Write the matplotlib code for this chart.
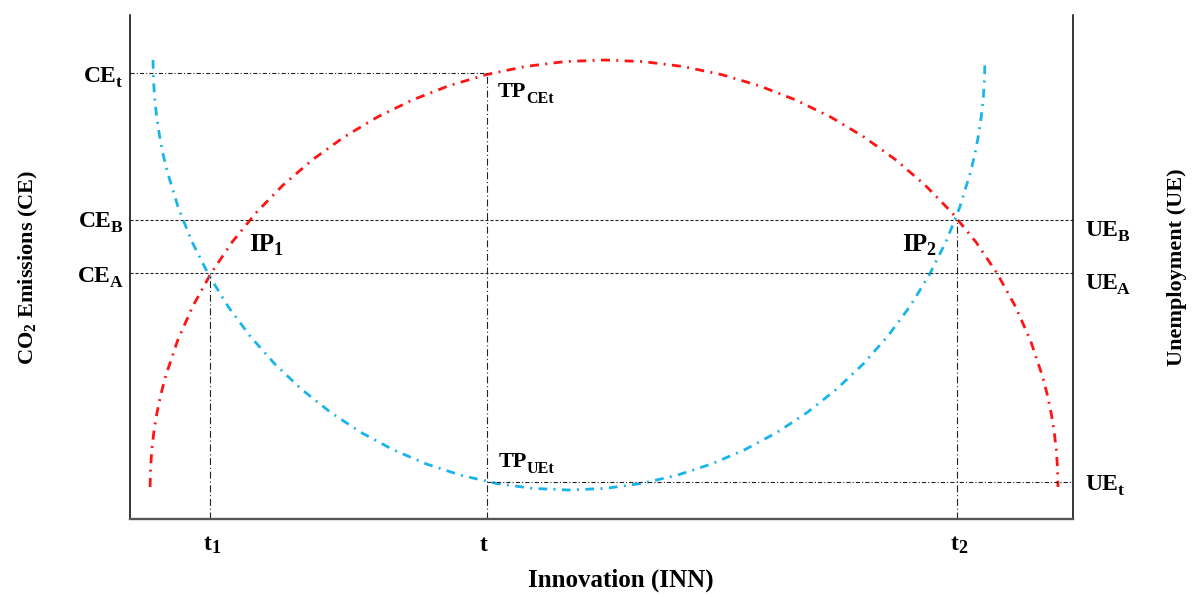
import matplotlib
matplotlib.use("Agg")
import matplotlib.pyplot as plt

# ---------------- data (abstract units: x 0-100, y 0-100) ----------------
# CO2 emissions curve (red)
ce_x = [2.13, 2.18, 2.31, 2.54, 2.86, 3.27, 3.77, 5.03, 6.64, 8.58, 10.83,
        13.39, 16.23, 19.33, 22.66, 26.20, 29.93, 33.81, 37.81, 41.91, 46.07,
        50.27, 54.47, 58.63, 62.73, 66.73, 70.61, 74.34, 77.88, 81.21, 84.31,
        87.15, 89.71, 91.96, 93.90, 95.51, 96.77, 97.27, 97.68, 98.00, 98.23,
        98.36, 98.41]
ce_y = [6.35, 10.05, 13.74, 17.41, 21.06, 24.69, 28.28, 35.32, 42.15, 48.71,
        54.95, 60.81, 66.26, 71.25, 75.75, 79.72, 83.13, 85.96, 88.18, 89.78,
        90.75, 91.07, 90.75, 89.78, 88.18, 85.96, 83.13, 79.72, 75.75, 71.25,
        66.26, 60.81, 54.95, 48.71, 42.15, 35.32, 28.28, 24.69, 21.06, 17.41,
        13.74, 10.05, 6.35]
# Unemployment curve (blue)
ue_x = [2.44, 2.48, 2.61, 2.82, 3.11, 3.48, 3.94, 5.10, 6.57, 8.35, 10.41,
        12.76, 15.36, 18.20, 21.25, 24.49, 27.91, 31.46, 35.13, 38.89, 42.70,
        46.55, 50.40, 54.21, 57.97, 61.64, 65.19, 68.61, 71.85, 74.90, 77.74,
        80.34, 82.69, 84.75, 86.53, 88.00, 89.16, 89.62, 89.99, 90.28, 90.49,
        90.62, 90.66]
ue_y = [91.07, 87.35, 83.63, 79.93, 76.26, 72.60, 68.99, 61.89, 55.01, 48.41,
        42.13, 36.23, 30.74, 25.72, 21.18, 17.18, 13.74, 10.90, 8.66, 7.05,
        6.07, 5.75, 6.07, 7.05, 8.66, 10.90, 13.74, 17.18, 21.18, 25.72, 30.74,
        36.23, 42.13, 48.41, 55.01, 61.89, 68.99, 72.60, 76.26, 79.93, 83.63,
        87.35, 91.07]

# key points
t1, t_mid, t2 = 8.5, 37.9, 87.7
ce_t, lev_b, lev_a, ue_t = 88.5, 59.3, 48.8, 7.3

x_tick_labels = [("t", "1"), ("t", ""), ("t", "2")]
left_labels = [("CE", "t"), ("CE", "B"), ("CE", "A")]
right_labels = [("UE", "B"), ("UE", "A"), ("UE", "t")]

# ---------------- figure ----------------
plt.rcParams['font.family'] = ['Liberation Serif', 'DejaVu Serif']
plt.rcParams['font.weight'] = 'bold'
plt.rcParams['lines.scale_dashes'] = False

W, H = 1199, 597
fig = plt.figure(figsize=(W / 100, H / 100), dpi=100)
ax = fig.add_axes([130 / W, 1 - 519 / H, 943 / W, 504 / H])
ax.set_xlim(0, 100)
ax.set_ylim(0, 100)
ax.set_xticks([])
ax.set_yticks([])
ax.spines['top'].set_visible(False)
for s in ('left', 'right'):
    ax.spines[s].set_linewidth(1.1)
    ax.spines[s].set_color('black')
ax.spines['bottom'].set_linewidth(1.7)
ax.spines['bottom'].set_color('#555555')

RED = '#FF1414'
BLUE = '#18B4EA'
ax.plot(ce_x, ce_y, color=RED, lw=2.0, dashes=(6.5, 4.6, 1.4, 4.6), clip_on=False)
ax.plot(ue_x, ue_y, color=BLUE, lw=2.0, dashes=(6.3, 4.6, 1.4, 4.6), clip_on=False)

ref = dict(color='#222222', lw=0.8)
# horizontal reference lines
ax.plot([0, t_mid], [ce_t, ce_t], dashes=(3, 1.5, 0.8, 1.5), **ref)
ax.plot([0, 100], [lev_b, lev_b], dashes=(2.2, 1.4), **ref)
ax.plot([0, 100], [lev_a, lev_a], dashes=(2.2, 1.4), **ref)
ax.plot([t_mid, 100], [ue_t, ue_t], dashes=(3, 1.5, 0.8, 1.5), **ref)
# vertical reference lines
ax.plot([t_mid, t_mid], [0, ce_t], dashes=(5, 2, 0.8, 2), **ref)
ax.plot([t1, t1], [0, lev_a], dashes=(5, 2, 0.8, 2), **ref)
ax.plot([t2, t2], [0, lev_b], dashes=(5, 2, 0.8, 2), **ref)


def px2x(px):
    return (px - 130) / 943 * 100


def px2y(py):
    return (519 - py) / 504 * 100


def label(x, y, main, sub, mode='left', fs=17, sfs=12.5, drop=3.6):
    """Text with a manually placed subscript; (x, y) = baseline anchor.
    mode 'left': main starts at x; 'right': subscript ends at x;
    'mid': main ends at x."""
    kw = dict(fontweight='bold', annotation_clip=False)
    if mode in ('left', 'mid'):
        m = ax.text(x, y, main, ha='left' if mode == 'left' else 'right',
                    va='baseline', fontsize=fs, fontweight='bold', clip_on=False)
        ax.annotate(sub, xy=(1, y), xycoords=(m, 'data'),
                    xytext=(-0.4, -drop), textcoords='offset points',
                    ha='left', va='baseline', fontsize=sfs, **kw)
    else:
        s = ax.annotate(sub, xy=(x, y), xycoords='data',
                        xytext=(0, -drop), textcoords='offset points',
                        ha='right', va='baseline', fontsize=sfs, **kw)
        ax.annotate(main, xy=(0, y), xycoords=(s, 'data'),
                    xytext=(0.6, 0), textcoords='offset points',
                    ha='right', va='baseline', fontsize=fs, **kw)


# left labels
for (m, s), py in zip(left_labels, [82, 227, 282]):
    label(px2x(122), px2y(py), m, s, mode='right')
# right labels
for (m, s), py in zip(right_labels, [236, 289, 490]):
    label(px2x(1085), px2y(py), m, s, mode='left')

# x "tick" labels
for (m, s), xv in zip(x_tick_labels, [t1, t_mid, t2]):
    if s:
        label(xv + 0.2, px2y(550), m, s, mode='mid', sfs=13, drop=2.5)
    else:
        ax.text(xv - 0.4, px2y(551), m, ha='center', va='baseline',
                fontsize=17, fontweight='bold', clip_on=False)

# in-plot annotations
label(px2x(249), px2y(251), "IP", "1", fs=18, sfs=13, drop=3)
label(px2x(902), px2y(251), "IP", "2", fs=18, sfs=13, drop=3)
label(px2x(498), px2y(97), "TP", "CEt", fs=16, sfs=11.5, drop=4.3)
label(px2x(499), px2y(467), "TP", "UEt", fs=16, sfs=11.5, drop=4.3)

# axis titles
fig.text(621 / W, 1 - 580 / H, "Innovation (INN)", ha='center', va='center',
         fontsize=18, fontweight='bold')
fig.text(28 / W, 1 - 267 / H, r"CO$_\mathregular{2}$ Emissions (CE)", ha='center',
         va='center', rotation=90, fontsize=16, fontweight='bold')
fig.text(1177 / W, 1 - 267 / H, "Unemployment (UE)", ha='center', va='center',
         rotation=90, fontsize=16, fontweight='bold')

fig.savefig('out.png', dpi=100)
